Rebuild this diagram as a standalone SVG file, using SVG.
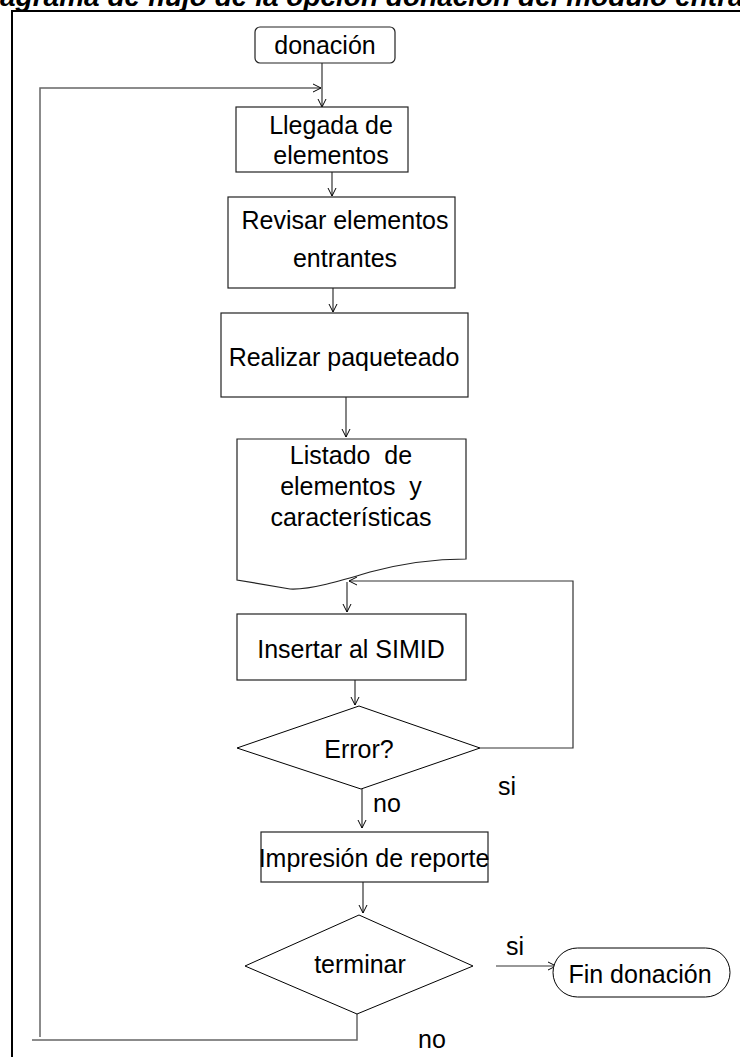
<svg xmlns="http://www.w3.org/2000/svg" width="740" height="1057" viewBox="0 0 740 1057">
<defs>
<marker id="arr" markerWidth="10" markerHeight="10" refX="9" refY="5" orient="auto" markerUnits="userSpaceOnUse">
<path d="M1,1 L9,5 L1,9" fill="none" stroke="#000" stroke-width="1"/>
</marker>
<style>
.t{font-family:"Liberation Sans",Arial,sans-serif;font-size:25px;fill:#000;text-anchor:middle;white-space:pre}
.n{fill:#fff;stroke:#222;stroke-width:1.2}
.d{fill:#fff;stroke:#000;stroke-width:1}
.c{fill:none;stroke:#333;stroke-width:1.2}
.g{fill:none;stroke:#666;stroke-width:1.5}
</style>
</defs>
<rect width="740" height="1057" fill="#fff"/>
<text x="-28" y="6" style="font-family:'Liberation Sans',Arial,sans-serif;font-size:28px;font-weight:bold;font-style:italic">Diagrama de flujo de la opción donación  del módulo entrada</text>
<path d="M12,1057 V11 H740" fill="none" stroke="#000" stroke-width="2"/>

<g id="connectors">
<path class="c" d="M322,62 V107" marker-end="url(#arr)"/>
<path class="g" d="M40,1037 V88 H321" marker-end="url(#arr)"/>
<path class="c" d="M332,163 V196" marker-end="url(#arr)"/>
<path class="c" d="M333,280 V312" marker-end="url(#arr)"/>
<path class="c" d="M346,397 V437" marker-end="url(#arr)"/>
<path class="c" d="M347,582 V612" marker-end="url(#arr)"/>
<path class="c" d="M355,680 V705" marker-end="url(#arr)"/>
<path class="c" d="M480,748 H573 V581 H349" marker-end="url(#arr)"/>
<path class="c" d="M362,789 V828" marker-end="url(#arr)"/>
<path class="c" d="M363,882 V913" marker-end="url(#arr)"/>
<path class="c" d="M496,966 H556" marker-end="url(#arr)"/>
<path class="g" d="M357,1014 V1040 H32"/>
</g>

<g id="n-donacion">
<rect class="n" x="255" y="27" width="140" height="36" rx="5"/>
<text class="t" x="325" y="54">donación</text>
</g>
<g id="n-llegada">
<rect class="n" x="236" y="107" width="172" height="65"/>
<text class="t" x="331" y="134">Llegada de</text>
<text class="t" x="331" y="164">elementos</text>
</g>
<g id="n-revisar">
<rect class="n" x="228" y="197" width="227" height="91"/>
<text class="t" x="345" y="229">Revisar elementos</text>
<text class="t" x="345" y="267">entrantes</text>
</g>
<g id="n-realizar">
<rect class="n" x="221" y="313" width="247" height="84"/>
<text class="t" x="344" y="366">Realizar paqueteado</text>
</g>
<g id="n-listado">
<path class="n" d="M237,439 H466 V559 C430,559 400,564 370,572 C340,581 310,590 290,589 L237,580 Z"/>
<text class="t" x="351" y="464" xml:space="preserve">Listado  de</text>
<text class="t" x="351" y="495" xml:space="preserve">elementos  y</text>
<text class="t" x="351" y="526">características</text>
</g>
<g id="n-insertar">
<rect class="n" x="237" y="614" width="229" height="66"/>
<text class="t" x="351" y="658">Insertar al SIMID</text>
</g>
<g id="n-error">
<polygon class="d" points="359,706 480,748 361,789 237,748"/>
<text class="t" x="359" y="758">Error?</text>
</g>
<text class="t" x="507" y="795">si</text>
<text class="t" x="387" y="812">no</text>
<g id="n-impresion">
<rect class="n" x="261" y="832" width="227" height="50"/>
<text class="t" x="374" y="867">Impresión de reporte</text>
</g>
<g id="n-terminar">
<polygon class="d" points="359,915 473,966 357,1014 245,966"/>
<text class="t" x="360" y="973">terminar</text>
</g>
<text class="t" x="515" y="955">si</text>
<g id="n-fin">
<rect class="d" x="553" y="948" width="177" height="49" rx="24.5"/>
<text class="t" x="640" y="983">Fin donación</text>
</g>
<text class="t" x="432" y="1048">no</text>
</svg>
